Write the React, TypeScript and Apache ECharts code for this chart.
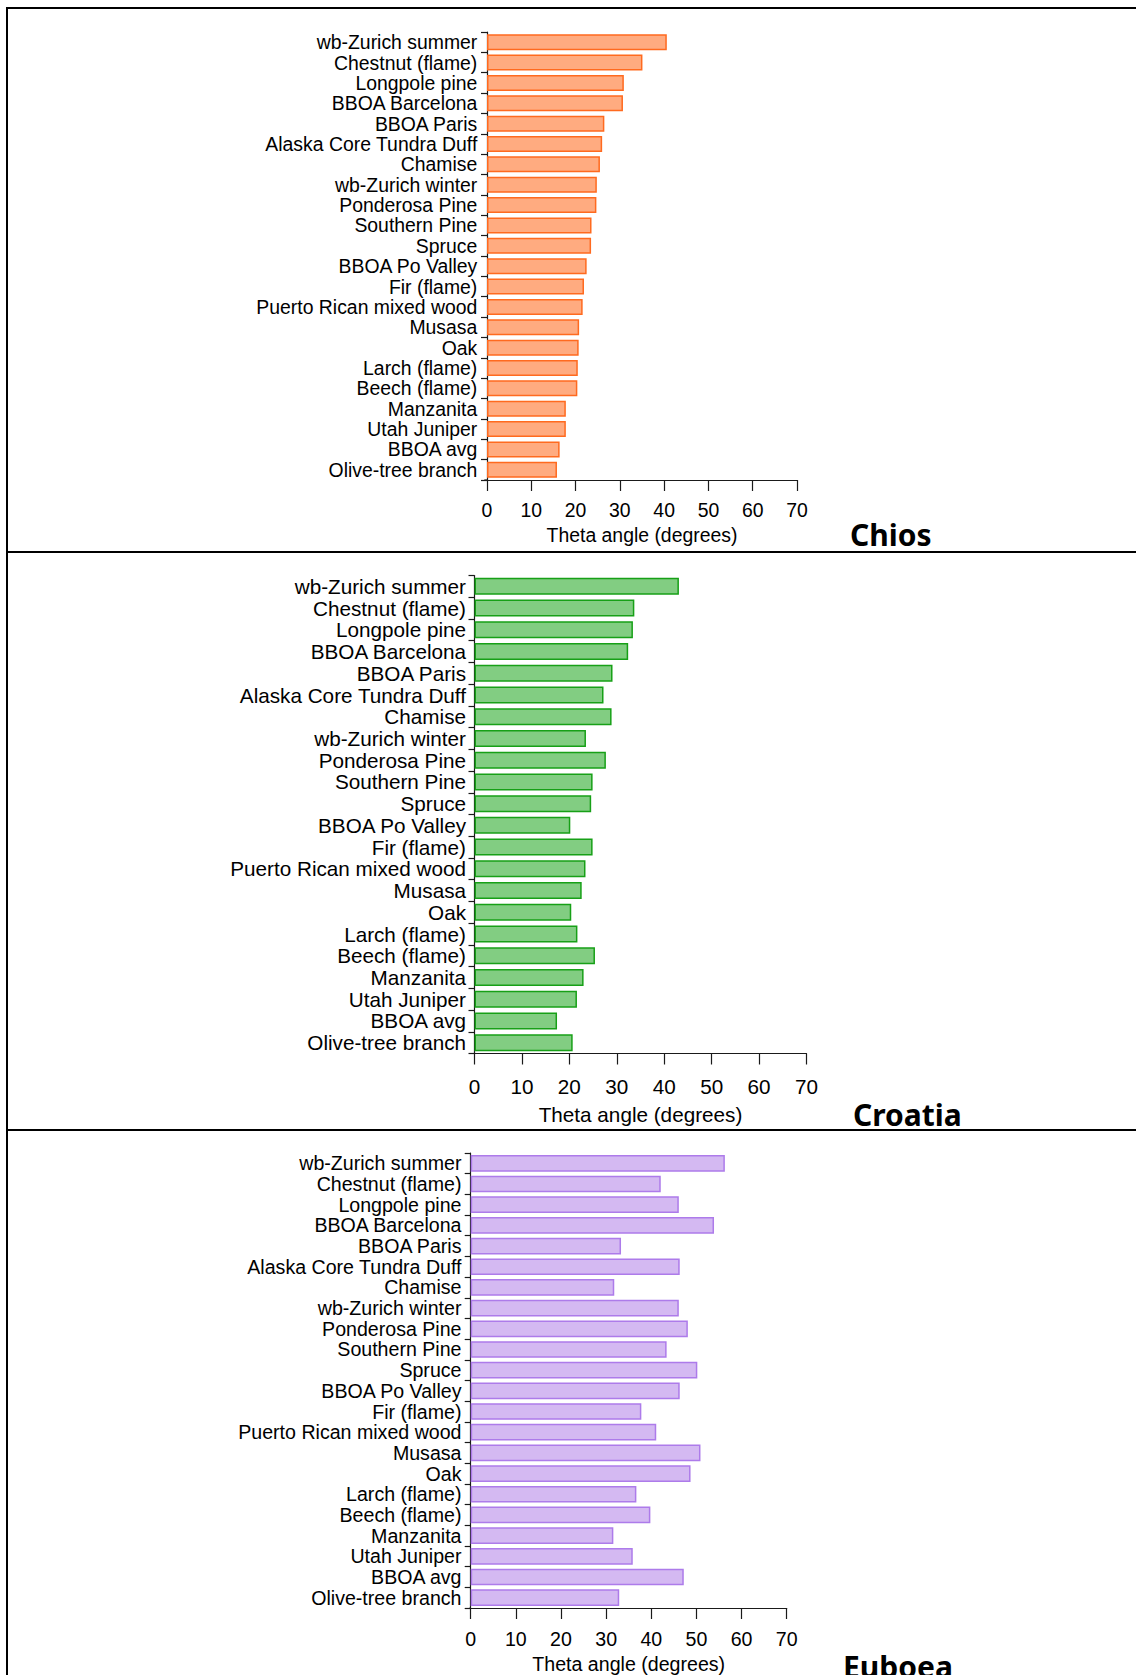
import React, { useEffect, useRef } from "react";
import * as echarts from "echarts";

// Biomass-burning source profiles, listed top to bottom
const CATEGORIES = [
  "wb-Zurich summer",
  "Chestnut (flame)",
  "Longpole pine",
  "BBOA Barcelona",
  "BBOA Paris",
  "Alaska Core Tundra Duff",
  "Chamise",
  "wb-Zurich winter",
  "Ponderosa Pine",
  "Southern Pine",
  "Spruce",
  "BBOA Po Valley",
  "Fir (flame)",
  "Puerto Rican mixed wood",
  "Musasa",
  "Oak",
  "Larch (flame)",
  "Beech (flame)",
  "Manzanita",
  "Utah Juniper",
  "BBOA avg",
  "Olive-tree branch",
];

// Theta angle (degrees) per site, same order as CATEGORIES
const CHIOS_THETA = [
  40.6, 35.1, 30.9, 30.7, 26.5, 26.0, 25.5, 24.8, 24.7, 23.6, 23.5,
  22.5, 21.9, 21.6, 20.8, 20.7, 20.5, 20.4, 17.8, 17.8, 16.4, 15.8,
];
const CROATIA_THETA = [
  43.1, 33.7, 33.4, 32.4, 29.1, 27.2, 28.9, 23.5, 27.7, 24.9, 24.6,
  20.2, 24.9, 23.4, 22.6, 20.4, 21.7, 25.4, 23.0, 21.6, 17.4, 20.7,
];
const EUBOEA_THETA = [
  56.3, 42.1, 46.1, 53.9, 33.3, 46.3, 31.8, 46.1, 48.1, 43.4, 50.2,
  46.3, 37.8, 41.1, 50.9, 48.7, 36.7, 39.8, 31.6, 35.9, 47.2, 32.9,
];

const X_MIN = 0;
const X_MAX = 70;
const X_STEP = 10;
const X_TITLE = "Theta angle (degrees)";

const SANS = "'Liberation Sans', Arial, Helvetica, sans-serif";
const TITLE_FONT = "'Noto Sans', 'DejaVu Sans', sans-serif";
const INK = "#1a1a1a";

type Panel = {
  name: string;
  values: number[];
  fill: string;
  stroke: string;
  grid: { left: number; top: number; width: number; height: number };
  fontSize: number;
  yOffset: number;
  catLabelMargin: number;
  valLabelMargin: number;
  nameGap: number;
  barWidth: number;
  titleX: number;
  titleY: number;
};

const PANELS: Panel[] = [
  {
    name: "Chios",
    values: CHIOS_THETA,
    fill: "#FFAB80",
    stroke: "#FF6A1F",
    grid: { left: 487, top: 32, width: 310, height: 448 },
    fontSize: 19.4,
    yOffset: 2.7,
    catLabelMargin: 7,
    valLabelMargin: 20,
    nameGap: 45.5,
    barWidth: 16,
    titleX: 850,
    titleY: 534,
  },
  {
    name: "Croatia",
    values: CROATIA_THETA,
    fill: "#82CD82",
    stroke: "#17A017",
    grid: { left: 474.5, top: 575.5, width: 332, height: 478 },
    fontSize: 20.7,
    yOffset: 1.5,
    catLabelMargin: 7,
    valLabelMargin: 22.5,
    nameGap: 50.5,
    barWidth: 17,
    titleX: 853,
    titleY: 1114.5,
  },
  {
    name: "Euboea",
    values: EUBOEA_THETA,
    fill: "#D4B9F2",
    stroke: "#AD7BEA",
    grid: { left: 470.7, top: 1153, width: 316, height: 455 },
    fontSize: 19.6,
    yOffset: 1.2,
    catLabelMargin: 8,
    valLabelMargin: 21,
    nameGap: 46,
    barWidth: 16.7,
    titleX: 843,
    titleY: 1666,
  },
];

function buildOption() {
  const axisLine = { show: true, lineStyle: { color: INK, width: 1.2 } };

  const frame = [
    { type: "rect", shape: { x: 6, y: 7, width: 2, height: 1700 } },
    { type: "rect", shape: { x: 6, y: 7, width: 1140, height: 2 } },
    { type: "rect", shape: { x: 6, y: 551, width: 1140, height: 2 } },
    { type: "rect", shape: { x: 6, y: 1129, width: 1140, height: 2 } },
  ].map((r) => ({ ...r, silent: true, style: { fill: "#000" } }));

  // the value axis line continues left to meet the shifted category axis
  const corners = PANELS.map((p) => ({
    type: "line",
    silent: true,
    shape: {
      x1: p.grid.left - p.yOffset,
      y1: p.grid.top + p.grid.height,
      x2: p.grid.left,
      y2: p.grid.top + p.grid.height,
    },
    style: { stroke: INK, lineWidth: 1.2 },
  }));

  const titles = PANELS.map((p) => ({
    type: "text",
    x: p.titleX,
    y: p.titleY,
    silent: true,
    style: {
      text: p.name,
      fill: "#000",
      fontFamily: TITLE_FONT,
      fontWeight: "bold",
      fontSize: 30,
      align: "left",
      verticalAlign: "middle",
    },
  }));

  return {
    animation: false,
    backgroundColor: "#fff",
    grid: PANELS.map((p) => ({
      ...p.grid,
      containLabel: false,
      outerBoundsMode: "none",
    })),
    xAxis: PANELS.map((p, i) => ({
      type: "value",
      gridIndex: i,
      min: X_MIN,
      max: X_MAX,
      interval: X_STEP,
      name: X_TITLE,
      nameLocation: "middle",
      nameGap: p.nameGap,
      nameTextStyle: { fontSize: p.fontSize, color: "#000", fontFamily: SANS },
      axisLine,
      axisTick: { show: true, inside: false, length: 11, lineStyle: { color: INK, width: 1.2 } },
      axisLabel: { margin: p.valLabelMargin, fontSize: p.fontSize, color: "#000", fontFamily: SANS },
      splitLine: { show: false },
    })),
    yAxis: PANELS.map((p, i) => ({
      type: "category",
      gridIndex: i,
      data: CATEGORIES,
      inverse: true,
      offset: p.yOffset,
      axisLine,
      axisTick: { show: true, inside: false, length: 6, lineStyle: { color: INK, width: 1.2 } },
      axisLabel: {
        interval: 0,
        margin: p.catLabelMargin,
        fontSize: p.fontSize,
        color: "#000",
        fontFamily: SANS,
      },
      splitLine: { show: false },
    })),
    series: PANELS.map((p, i) => ({
      type: "bar",
      name: p.name,
      xAxisIndex: i,
      yAxisIndex: i,
      data: p.values,
      barWidth: p.barWidth,
      silent: true,
      itemStyle: { color: p.fill, borderColor: p.stroke, borderWidth: 1.5 },
    })),
    graphic: [...frame, ...corners, ...titles],
  };
}

export default function App() {
  const ref = useRef<HTMLDivElement>(null);

  useEffect(() => {
    if (!ref.current) return;
    const chart = echarts.init(ref.current, null, { renderer: "svg" });
    chart.setOption(buildOption() as any);
    return () => chart.dispose();
  }, []);

  return (
    <div
      ref={ref}
      style={{
        position: "absolute",
        left: 0,
        top: 0,
        width: 1136,
        height: 1675,
        overflow: "hidden",
      }}
    />
  );
}
